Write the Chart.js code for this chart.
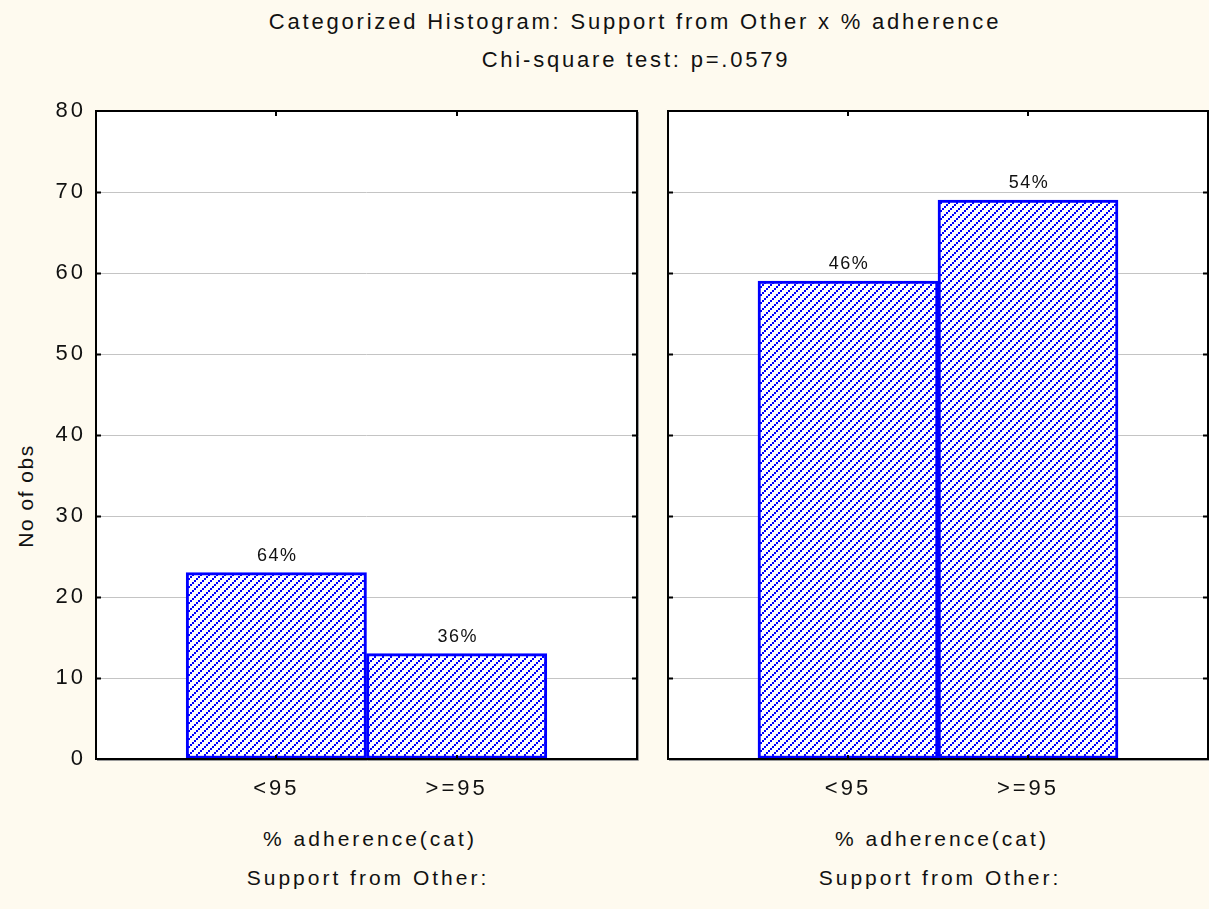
<!DOCTYPE html>
<html>
<head>
<meta charset="utf-8">
<script src="https://cdn.jsdelivr.net/npm/chart.js@4.4.1/dist/chart.umd.min.js"></script>
<style>
  html, body { margin: 0; padding: 0; background: #FEFAEF; }
  body { width: 1209px; height: 909px; position: relative; overflow: hidden;
         font-family: "Liberation Sans", Arial, sans-serif; color: #111; }
  .txt { position: absolute; white-space: nowrap; transform: translate(-50%, -50%);
         font-size: 21px; letter-spacing: 3px; line-height: 1; }
  .head { font-size: 22px; letter-spacing: 2.8px; }
  .rot { transform: translate(-50%, -50%) rotate(-90deg); letter-spacing: 1.5px; }
  canvas { position: absolute; top: 0; }
</style>
</head>
<body>
<div class="txt head" style="left:635px; top:22px;">Categorized Histogram: Support from Other x % adherence</div>
<div class="txt head" style="left:636px; top:60px;">Chi-square test: p=.0579</div>
<div class="txt rot" style="left:25px; top:496px;">No of obs</div>
<div class="txt" style="left:370px; top:838px;">% adherence(cat)</div>
<div class="txt" style="left:942px; top:838px;">% adherence(cat)</div>
<div class="txt" style="left:368px; top:877px;">Support from Other:</div>
<div class="txt" style="left:940px; top:877px;">Support from Other:</div>

<canvas id="panelA" width="640" height="909" style="left:0px;"></canvas>
<canvas id="panelB" width="569" height="909" style="left:640px;"></canvas>

<script>
// Adherence categories on the x axis
const categories = ['<95', '>=95'];
// Counts per adherence category, one array per "Support from Other" panel
const countsPanelA = [23, 13];
const countsPanelB = [59, 69];
// Y axis range and step for "No of obs"
const yMin = 0;
const yMax = 80;
const yStep = 10;

const BLUE = '#0000FF';

// Blue diagonal hatch on white used for the bar fill
function makeHatch() {
  const n = 8;
  const t = document.createElement('canvas');
  t.width = n; t.height = n;
  const g = t.getContext('2d');
  g.fillStyle = '#FFFFFF';
  g.fillRect(0, 0, n, n);
  g.fillStyle = BLUE;
  for (let k = 0; k < n; k += 2) g.fillRect(n - 2 - k, k, 2, 2);
  return g.createPattern(t, 'repeat');
}

// White plot background, frame and short inward tick marks on all four sides
const framePlugin = {
  id: 'frame',
  beforeDraw(chart) {
    const { ctx, chartArea: a } = chart;
    ctx.letterSpacing = '3px';
    ctx.save();
    ctx.fillStyle = '#FFFFFF';
    ctx.fillRect(a.left, a.top, a.right - a.left, a.bottom - a.top);
    ctx.restore();
  },
  afterDatasetsDraw(chart) {
    const { ctx, chartArea: a, scales } = chart;
    ctx.save();
    ctx.strokeStyle = '#000';
    ctx.lineWidth = 2;
    ctx.beginPath();
    scales.y.ticks.forEach(t => {
      if (t.value <= yMin || t.value >= yMax) return;
      const py = Math.round(scales.y.getPixelForValue(t.value)) + 0.5;
      ctx.moveTo(a.left, py); ctx.lineTo(a.left + 5, py);
      ctx.moveTo(a.right - 5, py); ctx.lineTo(a.right, py);
    });
    scales.x.ticks.forEach(t => {
      const px = Math.round(scales.x.getPixelForValue(t.value));
      ctx.moveTo(px, a.top); ctx.lineTo(px, a.top + 5);
      ctx.moveTo(px, a.bottom - 4); ctx.lineTo(px, a.bottom);
    });
    ctx.stroke();
    // soft shadow on the lower and right edges
    ctx.strokeStyle = '#9A9A9A';
    ctx.lineWidth = 1;
    ctx.beginPath();
    ctx.moveTo(a.left + 1, a.bottom + 1.5); ctx.lineTo(a.right + 1.5, a.bottom + 1.5);
    ctx.lineTo(a.right + 1.5, a.top + 1);
    ctx.stroke();
    ctx.strokeStyle = '#000';
    ctx.lineWidth = 2;
    ctx.strokeRect(a.left, a.top, a.right - a.left, a.bottom - a.top);
    ctx.restore();
  }
};

// Share of each bar within its panel, printed above the bar
const percentPlugin = {
  id: 'percentLabels',
  afterDatasetsDraw(chart) {
    const { ctx } = chart;
    const values = chart.data.datasets[0].data.map(d => d.y);
    const total = values.reduce((s, v) => s + v, 0);
    const meta = chart.getDatasetMeta(0);
    ctx.save();
    ctx.letterSpacing = '1.5px';
    ctx.font = '18px "Liberation Sans", Arial, sans-serif';
    ctx.fillStyle = '#111';
    ctx.textAlign = 'center';
    ctx.textBaseline = 'middle';
    meta.data.forEach((bar, i) => {
      const pct = Math.round(values[i] / total * 100) + '%';
      ctx.fillText(pct, bar.x + 1, bar.y - 17);
    });
    ctx.restore();
  }
};

function buildPanel(canvasId, counts, showYLabels, yAxisWidth, rightPad) {
  const hatch = makeHatch();
  return new Chart(document.getElementById(canvasId), {
    type: 'bar',
    data: {
      datasets: [{
        data: categories.map((c, i) => ({ x: i + 1, y: counts[i] })),
        backgroundColor: hatch,
        borderColor: BLUE,
        borderWidth: 3,
        borderSkipped: false,
        barPercentage: 1,
        categoryPercentage: 1
      }]
    },
    options: {
      responsive: false,
      animation: false,
      devicePixelRatio: 1,
      layout: { padding: { top: 111, right: rightPad, bottom: 0, left: 0 } },
      plugins: { legend: { display: false }, tooltip: { enabled: false }, title: { display: false } },
      scales: {
        x: {
          type: 'linear',
          offset: false,
          min: 0,
          max: categories.length + 1,
          afterBuildTicks(scale) {
            scale.ticks = categories.map((c, i) => ({ value: i + 1 }));
          },
          afterFit(scale) { scale.height = 150; },
          grid: { display: false, drawTicks: false, offset: false },
          border: { display: false },
          ticks: {
            padding: 17,
            color: '#111',
            font: { family: '"Liberation Sans", Arial, sans-serif', size: 22 },
            callback: v => categories[v - 1] ?? ''
          }
        },
        y: {
          min: yMin,
          max: yMax,
          afterFit(scale) { scale.width = yAxisWidth; },
          grid: {
            drawTicks: false,
            lineWidth: 1,
            color: c => (c.tick && (c.tick.value === yMin || c.tick.value === yMax)) ? 'rgba(0,0,0,0)' : '#C4C4C4'
          },
          border: { display: false },
          ticks: {
            display: showYLabels,
            stepSize: yStep,
            padding: 10,
            color: '#111',
            font: { family: '"Liberation Sans", Arial, sans-serif', size: 22 }
          }
        }
      }
    },
    plugins: [framePlugin, percentPlugin]
  });
}

buildPanel('panelA', countsPanelA, true, 96, 3);
buildPanel('panelB', countsPanelB, false, 28, 1);
</script>
</body>
</html>
